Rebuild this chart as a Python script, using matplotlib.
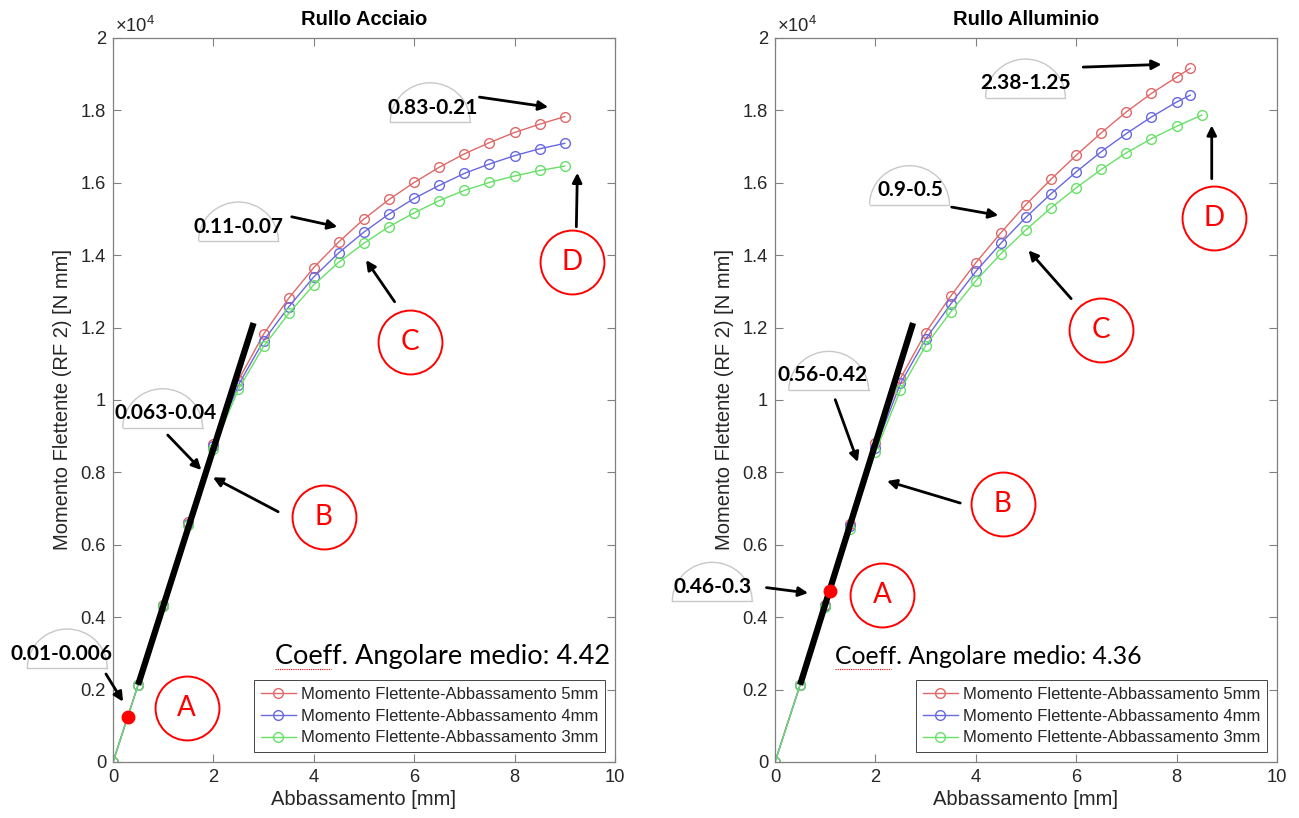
import matplotlib
matplotlib.use('Agg')
import matplotlib.pyplot as plt
from matplotlib.patches import Arc

plt.rcParams['font.family'] = ['Liberation Sans', 'DejaVu Sans']
plt.rcParams['mathtext.fontset'] = 'custom'
plt.rcParams['mathtext.rm'] = 'Liberation Sans'
plt.rcParams['mathtext.it'] = 'Liberation Sans'

# ---------------- data ----------------
steel_x = [0, 0.5, 1, 1.5, 2, 2.5, 3, 3.5, 4, 4.5, 5, 5.5, 6, 6.5, 7, 7.5, 8, 8.5, 9]
steel_5mm = [0, 2130, 4330, 6620, 8790, 10550, 11820, 12810, 13660, 14370, 15000,
             15540, 16010, 16430, 16800, 17110, 17390, 17620, 17830]
steel_4mm = [0, 2130, 4320, 6580, 8720, 10420, 11640, 12570, 13400, 14070, 14640,
             15140, 15570, 15930, 16260, 16520, 16750, 16940, 17090]
steel_3mm = [0, 2130, 4310, 6550, 8650, 10300, 11480, 12390, 13180, 13810, 14330,
             14790, 15170, 15510, 15790, 16010, 16190, 16340, 16460]

alu_x_54 = [0, 0.5, 1, 1.5, 2, 2.5, 3, 3.5, 4, 4.5, 5, 5.5, 6, 6.5, 7, 7.5, 8, 8.27]
alu_5mm = [0, 2130, 4330, 6580, 8820, 10600, 11860, 12870, 13790, 14620, 15400,
           16100, 16760, 17380, 17960, 18470, 18920, 19160]
alu_4mm = [0, 2130, 4310, 6520, 8670, 10460, 11680, 12650, 13550, 14330, 15050,
           15700, 16300, 16860, 17360, 17820, 18230, 18420]
alu_x_3 = [0, 0.5, 1, 1.5, 2, 2.5, 3, 3.5, 4, 4.5, 5, 5.5, 6, 6.5, 7, 7.5, 8, 8.5]
alu_3mm = [0, 2130, 4290, 6430, 8550, 10280, 11500, 12430, 13290, 14040, 14700,
           15310, 15860, 16370, 16830, 17220, 17560, 17870]

series_labels = ['Momento Flettente-Abbassamento 5mm',
                 'Momento Flettente-Abbassamento 4mm',
                 'Momento Flettente-Abbassamento 3mm']
series_colors = ['#e06868', '#6868e0', '#68e068']

x_ticks = [0, 2, 4, 6, 8, 10]
y_ticks = [0, 2000, 4000, 6000, 8000, 10000, 12000, 14000, 16000, 18000, 20000]
y_tick_labels = ['0', '0.2', '0.4', '0.6', '0.8', '1', '1.2', '1.4', '1.6', '1.8', '2']

titles = ['Rullo Acciaio', 'Rullo Alluminio']
coeff_texts = ['Coeff. Angolare medio: 4.42', 'Coeff. Angolare medio: 4.36']

# fitted line (x0, y0, x1, y1) and red point
steel_fit = ([0.5, 2.80], [2130, 12127])
alu_fit = ([0.5, 2.75], [2130, 12127])
steel_redpt = (0.30, 1250)
alu_redpt = (1.10, 4723)

# annotations: (label, text pos, arc centre, arrow tail, arrow head)
steel_labels = [
    ('0.83-0.21', (6.36, 18063), (6.32, 17685), (7.30, 18367), (8.67, 18091)),
    ('0.11-0.07', (2.50, 14777), (2.50, 14390), (3.56, 15061), (4.47, 14785)),
    ('0.063-0.04', (1.05, 9639), (0.99, 9233), (1.09, 9032), (1.76, 8065)),
    ('0.01-0.006', (-1.03, 2983), (-0.91, 2596), (-0.14, 2431), (0.20, 1665)),
]
alu_labels = [
    ('2.38-1.25', (5.00, 18765), (4.99, 18340), (6.14, 19196), (7.70, 19270)),
    ('0.9-0.5', (2.69, 15790), (2.68, 15395), (3.52, 15329), (4.45, 15100)),
    ('0.56-0.42', (0.94, 10681), (1.07, 10266), (1.20, 10009), (1.65, 8286)),
    ('0.46-0.3', (-1.24, 4825), (-1.25, 4438), (-0.17, 4817), (0.66, 4668)),
]
# letter circles: (letter, centre, arrow tail, arrow head)
steel_circles = [
    ('A', (1.47, 1483), None, None),
    ('B', (4.20, 6775), (3.29, 6913), (1.99, 7863)),
    ('C', (5.92, 11592), (5.61, 12714), (5.04, 13865)),
    ('D', (9.14, 13818), (9.23, 14785), (9.25, 16277)),
]
alu_circles = [
    ('A', (2.13, 4624), None, None),
    ('B', (4.54, 7137), (3.69, 7154), (2.23, 7761)),
    ('C', (6.49, 11943), (5.90, 12799), (5.05, 14133)),
    ('D', (8.75, 15025), (8.70, 16113), (8.70, 17586)),
]
steel_coeff_pos = (3.22, 2928)
alu_coeff_pos = (1.20, 2919)

# ---------------- figure ----------------
fig = plt.figure(figsize=(12.99, 8.18), dpi=100)
axL = fig.add_axes([0.08699, 0.06846, 0.38645, 0.88509])
axR = fig.add_axes([0.59661, 0.06846, 0.38645, 0.88509])

AX_GRAY = '#808080'
TXT_GRAY = '#262626'


def style(ax, title):
    ax.set_xlim(0, 10)
    ax.set_ylim(0, 20000)
    ax.set_xticks(x_ticks)
    ax.set_yticks(y_ticks)
    ax.set_yticklabels(y_tick_labels)
    ax.tick_params(direction='in', top=True, right=True, length=6, width=0.8,
                   colors=AX_GRAY, labelcolor=TXT_GRAY, labelsize=13.2, pad=5)
    for s in ax.spines.values():
        s.set_color(AX_GRAY)
        s.set_linewidth(0.9)
    ax.set_title(title, fontweight='bold', fontsize=14.5, pad=9, color='black')
    ax.set_xlabel('Abbassamento [mm]', fontsize=14.5, color=TXT_GRAY, labelpad=3)
    ax.set_ylabel('Momento Flettente (RF 2) [N mm]', fontsize=14.5, color=TXT_GRAY,
                  labelpad=6)
    ax.text(0.004, 1.003, r'$\times10^{4}$', transform=ax.transAxes, ha='left',
            va='bottom', fontsize=13.2, color=TXT_GRAY)


def draw(ax, xs, ys, fit, redpt, labels, circles, coeff_txt, coeff_pos, coeff_fs):
    handles = []
    for x, y, c, lab in zip(xs, ys, series_colors, series_labels):
        h, = ax.plot(x, y, '-o', color=c, lw=1.0, ms=7, mfc='none', mec=c,
                     mew=1.0, label=lab)
        handles.append(h)
    ax.plot(fit[0], fit[1], color='black', lw=4.5, solid_capstyle='butt')
    ax.plot([redpt[0]], [redpt[1]], 'o', color='red', ms=9, clip_on=False)
    for lab, tpos, apos, tail, head in labels:
        arc = Arc(apos, 1.59, 2154, theta1=0, theta2=180, color='#c8c8c8',
                  lw=1.0, clip_on=False)
        ax.add_patch(arc)
        ax.plot([apos[0] - 0.795, apos[0] + 0.795], [apos[1], apos[1]],
                color='#c8c8c8', lw=1.0, clip_on=False)
        ax.text(tpos[0], tpos[1], lab, ha='center', va='center', fontsize=15,
                fontweight='bold', family=['Lato', 'DejaVu Sans'], color='black',
                clip_on=False)
        ax.annotate('', xy=head, xytext=tail,
                    arrowprops=dict(arrowstyle='-|>', color='black', lw=2,
                                    mutation_scale=14, shrinkA=0, shrinkB=0),
                    annotation_clip=False)
    for letter, cpos, tail, head in circles:
        ax.plot([cpos[0]], [cpos[1]], 'o', ms=46, mfc='none', mec='red', mew=1.4,
                clip_on=False)
        ax.text(cpos[0], cpos[1], letter, color='red', fontsize=20, ha='center',
                va='center', family=['Lato', 'DejaVu Sans'])
        if tail is not None:
            ax.annotate('', xy=head, xytext=tail,
                        arrowprops=dict(arrowstyle='-|>', color='black', lw=2,
                                        mutation_scale=14, shrinkA=0, shrinkB=0),
                        annotation_clip=False)
    ax.text(coeff_pos[0], coeff_pos[1], coeff_txt, ha='left', va='center',
            fontsize=coeff_fs, family=['Lato', 'DejaVu Sans'], color='black')
    # spell-check squiggle under "Coeff"
    ax.plot([coeff_pos[0], coeff_pos[0] + 1.12], [coeff_pos[1] - 360] * 2,
            color='red', lw=0.8, ls=(0, (1, 1)))
    leg = ax.legend(handles=handles, loc='lower right',
                    bbox_to_anchor=(0.980, 0.0138), borderaxespad=0, fontsize=12,
                    frameon=True, fancybox=False, edgecolor=TXT_GRAY,
                    framealpha=1, handlelength=2.1, handletextpad=0.3,
                    labelspacing=0.4, borderpad=0.4)
    leg.get_frame().set_linewidth(0.6)
    for t in leg.get_texts():
        t.set_color(TXT_GRAY)


style(axL, titles[0])
style(axR, titles[1])
draw(axL, [steel_x, steel_x, steel_x], [steel_5mm, steel_4mm, steel_3mm],
     steel_fit, steel_redpt, steel_labels, steel_circles, coeff_texts[0],
     steel_coeff_pos, 19.5)
draw(axR, [alu_x_54, alu_x_54, alu_x_3], [alu_5mm, alu_4mm, alu_3mm],
     alu_fit, alu_redpt, alu_labels, alu_circles, coeff_texts[1], alu_coeff_pos,
     17.8)

fig.savefig('out.png', dpi=100)
